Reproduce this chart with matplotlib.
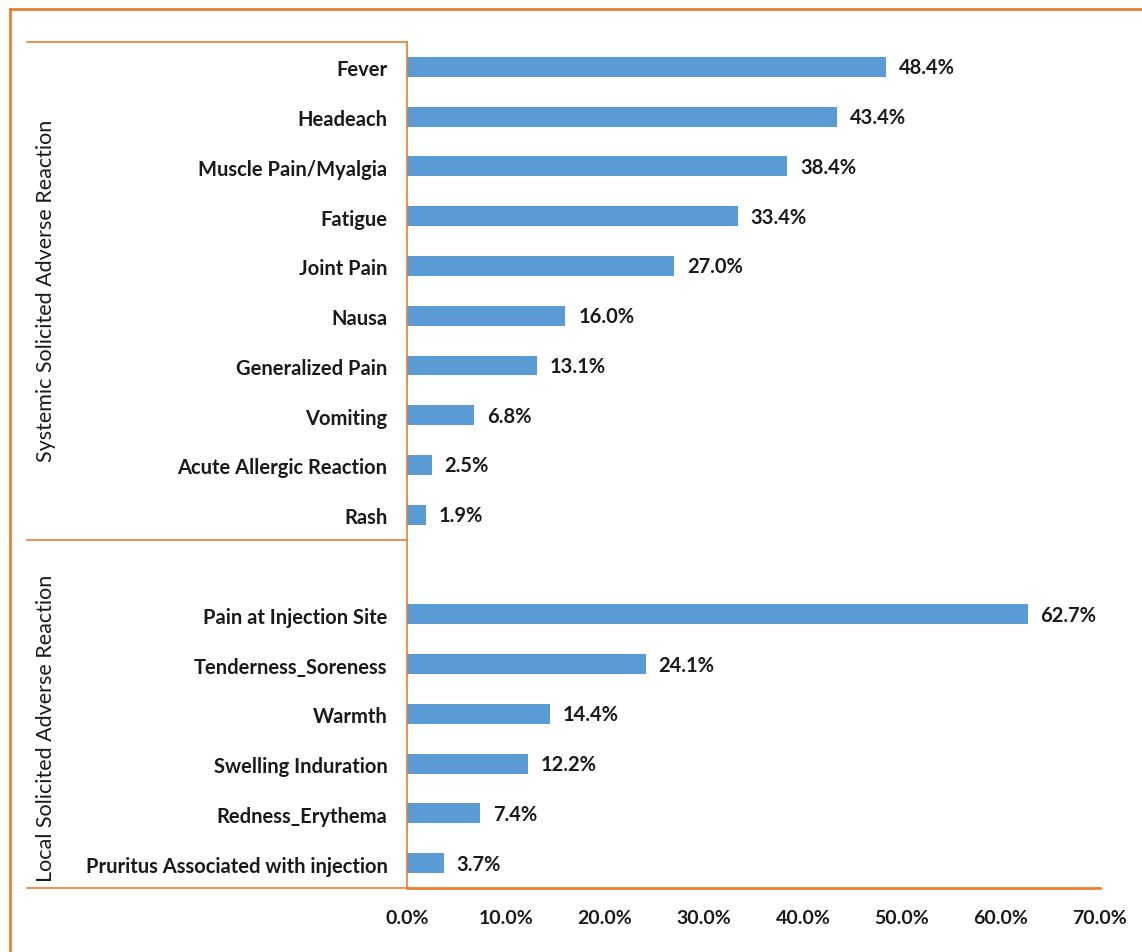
import matplotlib.pyplot as plt

systemic_labels = ["Fever", "Headeach", "Muscle Pain/Myalgia", "Fatigue", "Joint Pain",
                   "Nausa", "Generalized Pain", "Vomiting", "Acute Allergic Reaction", "Rash"]
systemic_values = [48.4, 43.4, 38.4, 33.4, 27.0, 16.0, 13.1, 6.8, 2.5, 1.9]

local_labels = ["Pain at Injection Site", "Tenderness_Soreness", "Warmth",
                "Swelling Induration", "Redness_Erythema", "Pruritus Associated with injection"]
local_values = [62.7, 24.1, 14.4, 12.2, 7.4, 3.7]

group_titles = ["Systemic Solicited Adverse Reaction", "Local Solicited Adverse Reaction"]
x_ticks = [0, 10, 20, 30, 40, 50, 60, 70]

orange = "#ed7d31"
blue = "#5b9bd5"
plt.rcParams['font.family'] = ['Lato', 'DejaVu Sans']

# one empty slot between the two groups
labels = systemic_labels + [""] + local_labels
values = systemic_values + [None] + local_values
pos = list(range(len(labels)))

fig = plt.figure(figsize=(11.42, 9.52), dpi=100)
ax = fig.add_axes([407 / 1142, 1 - 888 / 952, 693 / 1142, 846 / 952])

for p, v in zip(pos, values):
    if v is None:
        continue
    ax.barh(p, v, height=0.4, color=blue)
    ax.text(v + 1.3, p + 0.03, f"{v:.1f}%", va="center", ha="left",
            fontsize=14.5, fontweight="bold", color="#1a1a1a")

ax.set_ylim(len(labels) - 0.5, -0.5)
ax.set_xlim(0, 70)
ax.set_yticks([p + 0.03 for p in pos])
ax.set_yticklabels(labels, fontsize=14.5, fontweight="bold", color="#1a1a1a")
ax.set_xticks(x_ticks)
ax.set_xticklabels([f"{t:.1f}%" for t in x_ticks], fontsize=14, fontweight="bold", color="#1a1a1a")
ax.tick_params(axis="both", length=0)
ax.tick_params(axis="y", pad=14)
ax.tick_params(axis="x", pad=16)

for s in ["top", "right"]:
    ax.spines[s].set_visible(False)
ax.spines["left"].set_color(orange)
ax.spines["left"].set_linewidth(1.2)
ax.spines["bottom"].set_color(orange)
ax.spines["bottom"].set_linewidth(2)

# group separator lines extending into the label area
trans = ax.get_yaxis_transform()
x0 = (27 - 407) / 693
for yy in [-0.5, 9.5, len(labels) - 0.5]:
    ax.plot([x0, 0], [yy, yy], color=orange, lw=1.2, transform=trans, clip_on=False)

# group titles
ax.text(x0 + 0.028, 4.5, group_titles[0], rotation=90, va="center", ha="center",
        fontsize=15.5, transform=trans, color="#1a1a1a")
ax.text(x0 + 0.028, 13.3, group_titles[1], rotation=90, va="center", ha="center",
        fontsize=15.5, transform=trans, color="#1a1a1a")

# outer frame (left and top edges)
fig.add_artist(plt.Line2D([10 / 1142, 10 / 1142], [0, 1 - 9 / 952], color=orange, lw=2,
                          transform=fig.transFigure))
fig.add_artist(plt.Line2D([10 / 1142, 1], [1 - 9 / 952, 1 - 9 / 952], color=orange, lw=2,
                          transform=fig.transFigure))

fig.savefig("out.png", dpi=100)
